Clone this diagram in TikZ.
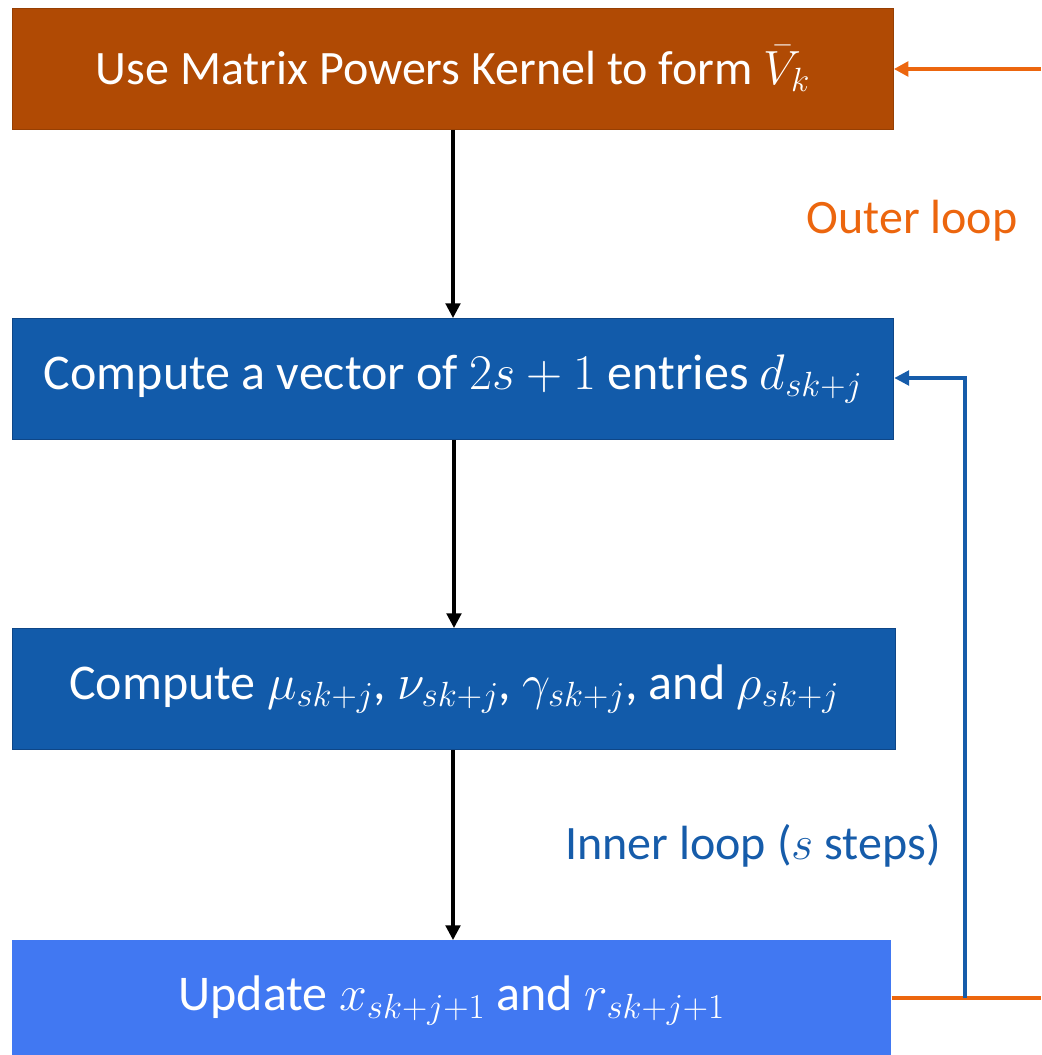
\RequirePackage{fix-cm}
\documentclass[tikz,border=0pt]{standalone}
\usepackage{fontspec}
\setmainfont{Carlito}
\usetikzlibrary{arrows.meta,positioning}
\definecolor{boxbrown}{RGB}{176,74,4}
\definecolor{boxblue}{RGB}{18,91,170}
\definecolor{boxblueedge}{RGB}{14,70,135}
\definecolor{boxlight}{RGB}{65,120,242}
\definecolor{loorange}{RGB}{236,102,14}
\definecolor{loblue}{RGB}{22,92,170}
\tikzset{
  stepbox/.style={rectangle, minimum width=660.75pt, minimum height=90.75pt, inner sep=0pt,
    text=white, font=\fontsize{37.5}{44}\selectfont, anchor=north west},
  flow/.style={draw=black, line width=2.3pt, -{Triangle[length=11pt,width=11pt]}},
  outer/.style={draw=loorange, line width=2.8pt},
  inner/.style={draw=loblue, line width=2.3pt},
  looplabel/.style={font=\fontsize{36}{42}\selectfont}
}
\begin{document}
\begin{tikzpicture}[x=0.75pt,y=-0.75pt]
\useasboundingbox (0,0) rectangle (1041,1055);
\node[stepbox, fill=boxbrown, draw=boxbrown!85!black, line width=0.6pt] (b1) at (12,8) {\fontsize{36}{42}\selectfont Use Matrix Powers Kernel to form $\bar{V}_k$};
\node[stepbox, fill=boxblue, draw=boxblueedge, line width=1pt] (b2) at (12,318) {Compute a vector of $2s+1$ entries $d_{sk+j}$};
\node[stepbox, fill=boxblue, draw=boxblueedge, line width=1pt, minimum width=662.25pt] (b3) at (12,628) {Compute $\mu_{sk+j}$, $\nu_{sk+j}$, $\gamma_{sk+j}$, and $\rho_{sk+j}$};
\node[stepbox, fill=boxlight, minimum width=659.25pt] (b4) at (12,940) {Update $x_{sk+j+1}$ and $r_{sk+j+1}$};
\coordinate (oin) at (1041,69);
\coordinate (oout) at (1041,998);
\coordinate (corner1) at (965,998);
\coordinate (corner2) at (965,378);
\draw[flow] (b1.south -| 453,0) -- (b2.north -| 453,0);
\draw[flow] (b2.south -| 454,0) -- (b3.north -| 454,0);
\draw[flow] (b3.south -| 453,0) -- (b4.north -| 453,0);
\draw[outer, -{Triangle[length=11pt,width=11pt]}] (oin) -- (oin -| b1.east);
\draw[outer] (b4.east |- oout) -- (oout);
\draw[inner, -{Triangle[length=11pt,width=11pt]}] (corner1) -- (corner2) -- (corner2 -| b2.east);
\node[looplabel, text=loorange] (outerlbl) at (912,221) {Outer loop};
\node[looplabel, text=loblue] (innerlbl) at (753,846) {Inner loop ($s$ steps)};
\end{tikzpicture}
\end{document}
